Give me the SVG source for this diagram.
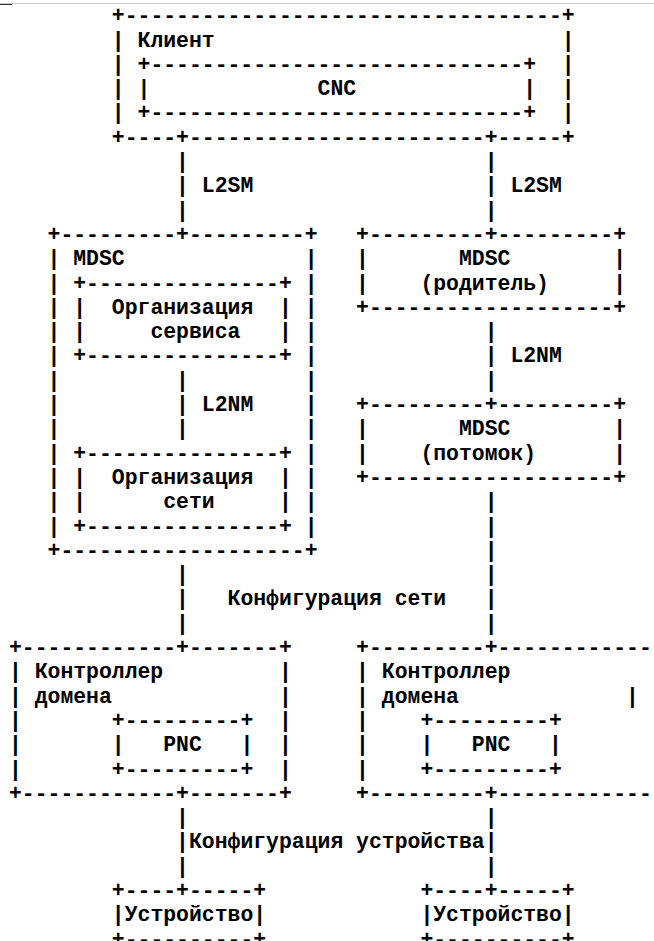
<svg xmlns="http://www.w3.org/2000/svg" width="654" height="941" viewBox="0 0 654 941" xml:space="preserve">
<style>
.t{font-family:"Liberation Mono","Courier New",monospace;font-weight:bold;font-size:21.43px;fill:#000;white-space:pre}
</style>
<rect width="654" height="941" fill="#fff"/>
<line x1="0" y1="3.5" x2="654" y2="3.5" stroke="#c8c8c8" stroke-width="1"/>
<line x1="0" y1="4.5" x2="12" y2="4.5" stroke="#333" stroke-width="1"/>

<g id="client">
<text class="t" x="111.83" y="22.2">+----------------------------------+</text>
<text class="t" x="111.83" y="46.5">|</text><text class="t" x="137.54" y="46.5">Клиент</text><text class="t" x="561.83" y="46.5">|</text>
<text class="t" x="111.83" y="70.8">|</text><text class="t" x="561.83" y="70.8">|</text>
<text class="t" x="111.83" y="95.1">|</text><text class="t" x="561.83" y="95.1">|</text>
<text class="t" x="111.83" y="119.4">|</text><text class="t" x="561.83" y="119.4">|</text>
<text class="t" x="111.83" y="143.7">+----+-----------------------+-----+</text>
<g id="cnc">
<text class="t" x="137.54" y="70.8">+-----------------------------+</text>
<text class="t" x="137.54" y="95.1">|</text><text class="t" x="317.54" y="95.1">CNC</text><text class="t" x="523.25" y="95.1">|</text>
<text class="t" x="137.54" y="119.4">+-----------------------------+</text>
</g>
</g>

<g id="mdsc-left">
<text class="t" x="47.54" y="240.9">+---------+---------+</text>
<text class="t" x="47.54" y="265.2">|</text><text class="t" x="73.26" y="265.2">MDSC</text><text class="t" x="304.68" y="265.2">|</text>
<text class="t" x="47.54" y="289.5">|</text><text class="t" x="304.68" y="289.5">|</text>
<text class="t" x="47.54" y="313.8">|</text><text class="t" x="304.68" y="313.8">|</text>
<text class="t" x="47.54" y="338.1">|</text><text class="t" x="304.68" y="338.1">|</text>
<text class="t" x="47.54" y="362.4">|</text><text class="t" x="304.68" y="362.4">|</text>
<text class="t" x="47.54" y="386.7">|</text><text class="t" x="304.68" y="386.7">|</text>
<text class="t" x="47.54" y="411.0">|</text><text class="t" x="304.68" y="411.0">|</text>
<text class="t" x="47.54" y="435.3">|</text><text class="t" x="304.68" y="435.3">|</text>
<text class="t" x="47.54" y="459.6">|</text><text class="t" x="304.68" y="459.6">|</text>
<text class="t" x="47.54" y="483.9">|</text><text class="t" x="304.68" y="483.9">|</text>
<text class="t" x="47.54" y="508.2">|</text><text class="t" x="304.68" y="508.2">|</text>
<text class="t" x="47.54" y="532.5">|</text><text class="t" x="304.68" y="532.5">|</text>
<text class="t" x="47.54" y="556.8">+-------------------+</text>
<g id="service-orchestration">
<text class="t" x="73.26" y="289.5">+---------------+</text>
<text class="t" x="73.26" y="313.8">|</text><text class="t" x="111.83" y="313.8">Организация</text><text class="t" x="278.97" y="313.8">|</text>
<text class="t" x="73.26" y="338.1">|</text><text class="t" x="150.40" y="338.1">сервиса</text><text class="t" x="278.97" y="338.1">|</text>
<text class="t" x="73.26" y="362.4">+---------------+</text>
</g>
<g id="network-orchestration">
<text class="t" x="73.26" y="459.6">+---------------+</text>
<text class="t" x="73.26" y="483.9">|</text><text class="t" x="111.83" y="483.9">Организация</text><text class="t" x="278.97" y="483.9">|</text>
<text class="t" x="73.26" y="508.2">|</text><text class="t" x="163.25" y="508.2">сети</text><text class="t" x="278.97" y="508.2">|</text>
<text class="t" x="73.26" y="532.5">+---------------+</text>
</g>
</g>

<g id="mdsc-parent">
<text class="t" x="356.11" y="240.9">+---------+---------+</text>
<text class="t" x="356.11" y="265.2">|</text><text class="t" x="458.97" y="265.2">MDSC</text><text class="t" x="613.25" y="265.2">|</text>
<text class="t" x="356.11" y="289.5">|</text><text class="t" x="420.40" y="289.5">(родитель)</text><text class="t" x="613.25" y="289.5">|</text>
<text class="t" x="356.11" y="313.8">+-------------------+</text>
</g>

<g id="mdsc-child">
<text class="t" x="356.11" y="411.0">+---------+---------+</text>
<text class="t" x="356.11" y="435.3">|</text><text class="t" x="458.97" y="435.3">MDSC</text><text class="t" x="613.25" y="435.3">|</text>
<text class="t" x="356.11" y="459.6">|</text><text class="t" x="420.40" y="459.6">(потомок)</text><text class="t" x="613.25" y="459.6">|</text>
<text class="t" x="356.11" y="483.9">+-------------------+</text>
</g>

<g id="controller-left">
<text class="t" x="8.97" y="654.0">+------------+-------+</text>
<text class="t" x="8.97" y="678.3">|</text><text class="t" x="34.68" y="678.3">Контроллер</text><text class="t" x="278.97" y="678.3">|</text>
<text class="t" x="8.97" y="702.6">|</text><text class="t" x="34.68" y="702.6">домена</text><text class="t" x="278.97" y="702.6">|</text>
<text class="t" x="8.97" y="726.9">|</text><text class="t" x="278.97" y="726.9">|</text>
<text class="t" x="8.97" y="751.2">|</text><text class="t" x="278.97" y="751.2">|</text>
<text class="t" x="8.97" y="775.5">|</text><text class="t" x="278.97" y="775.5">|</text>
<text class="t" x="8.97" y="799.8">+------------+-------+</text>
<g id="pnc-left">
<text class="t" x="111.83" y="726.9">+---------+</text>
<text class="t" x="111.83" y="751.2">|</text><text class="t" x="163.25" y="751.2">PNC</text><text class="t" x="240.40" y="751.2">|</text>
<text class="t" x="111.83" y="775.5">+---------+</text>
</g>
</g>

<g id="controller-right">
<text class="t" x="356.11" y="654.0">+---------+--------------</text>
<text class="t" x="356.11" y="678.3">|</text><text class="t" x="381.83" y="678.3">Контроллер</text>
<text class="t" x="356.11" y="702.6">|</text><text class="t" x="381.83" y="702.6">домена</text><text class="t" x="626.11" y="702.6">|</text>
<text class="t" x="356.11" y="726.9">|</text>
<text class="t" x="356.11" y="751.2">|</text>
<text class="t" x="356.11" y="775.5">|</text>
<text class="t" x="356.11" y="799.8">+---------+--------------</text>
<g id="pnc-right">
<text class="t" x="420.40" y="726.9">+---------+</text>
<text class="t" x="420.40" y="751.2">|</text><text class="t" x="471.83" y="751.2">PNC</text><text class="t" x="548.97" y="751.2">|</text>
<text class="t" x="420.40" y="775.5">+---------+</text>
</g>
</g>

<g id="device-left">
<text class="t" x="111.83" y="897.0">+----+-----+</text>
<text class="t" x="111.83" y="921.3">|Устройство|</text>
<text class="t" x="111.83" y="945.6">+----------+</text>
</g>
<g id="device-right">
<text class="t" x="420.40" y="897.0">+----+-----+</text>
<text class="t" x="420.40" y="921.3">|Устройство|</text>
<text class="t" x="420.40" y="945.6">+----------+</text>
</g>

<g id="connectors">
<text class="t" x="176.11" y="168.0">|</text><text class="t" x="484.68" y="168.0">|</text>
<text class="t" x="176.11" y="192.3">|</text><text class="t" x="201.83" y="192.3">L2SM</text><text class="t" x="484.68" y="192.3">|</text><text class="t" x="510.40" y="192.3">L2SM</text>
<text class="t" x="176.11" y="216.6">|</text><text class="t" x="484.68" y="216.6">|</text>
<text class="t" x="176.11" y="386.7">|</text>
<text class="t" x="176.11" y="411.0">|</text><text class="t" x="201.83" y="411.0">L2NM</text>
<text class="t" x="176.11" y="435.3">|</text>
<text class="t" x="484.68" y="338.1">|</text>
<text class="t" x="484.68" y="362.4">|</text><text class="t" x="510.40" y="362.4">L2NM</text>
<text class="t" x="484.68" y="386.7">|</text>
<text class="t" x="484.68" y="508.2">|</text>
<text class="t" x="484.68" y="532.5">|</text>
<text class="t" x="484.68" y="556.8">|</text>
<text class="t" x="176.11" y="581.1">|</text><text class="t" x="484.68" y="581.1">|</text>
<text class="t" x="176.11" y="605.4">|</text><text class="t" x="227.54" y="605.4">Конфигурация сети</text><text class="t" x="484.68" y="605.4">|</text>
<text class="t" x="176.11" y="629.7">|</text><text class="t" x="484.68" y="629.7">|</text>
<text class="t" x="176.11" y="824.1">|</text><text class="t" x="484.68" y="824.1">|</text>
<text class="t" x="176.11" y="848.4">|</text><text class="t" x="188.97" y="848.4">Конфигурация устройства</text><text class="t" x="484.68" y="848.4">|</text>
<text class="t" x="176.11" y="872.7">|</text><text class="t" x="484.68" y="872.7">|</text>
</g>
</svg>
